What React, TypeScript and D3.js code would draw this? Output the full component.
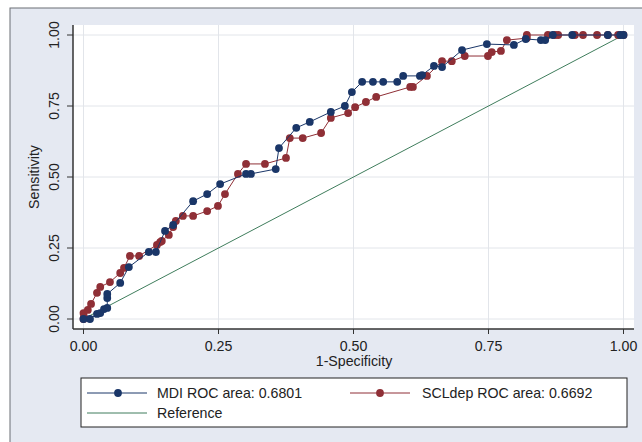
import React from "react";
import * as d3 from "d3";

const tickValues = [0, 0.25, 0.5, 0.75, 1];
const tickLabels = ["0.00", "0.25", "0.50", "0.75", "1.00"];

const mdiX = [0, 0.012, 0.025, 0.031, 0.038, 0.044, 0.044, 0.044, 0.068, 0.084, 0.121, 0.134, 0.151, 0.166, 0.203, 0.229, 0.253, 0.301, 0.31, 0.356, 0.362, 0.394, 0.419, 0.458, 0.484, 0.497, 0.516, 0.536, 0.555, 0.581, 0.592, 0.623, 0.627, 0.649, 0.664, 0.701, 0.747, 0.797, 0.819, 0.847, 0.855, 0.869, 0.905, 0.971, 0.994, 1];
const mdiY = [0, 0, 0.018, 0.021, 0.035, 0.039, 0.074, 0.088, 0.127, 0.183, 0.236, 0.236, 0.31, 0.331, 0.415, 0.44, 0.475, 0.511, 0.511, 0.528, 0.602, 0.673, 0.694, 0.729, 0.75, 0.799, 0.835, 0.835, 0.835, 0.835, 0.856, 0.856, 0.859, 0.891, 0.887, 0.947, 0.968, 0.965, 0.986, 0.982, 0.982, 1, 1, 1, 1, 1];

const sclX = [0, 0.001, 0, 0.008, 0.014, 0.025, 0.031, 0.049, 0.068, 0.075, 0.086, 0.103, 0.136, 0.142, 0.145, 0.158, 0.166, 0.171, 0.184, 0.203, 0.229, 0.249, 0.262, 0.286, 0.301, 0.336, 0.375, 0.382, 0.406, 0.44, 0.458, 0.49, 0.503, 0.523, 0.542, 0.605, 0.61, 0.636, 0.664, 0.682, 0.706, 0.749, 0.756, 0.773, 0.784, 0.821, 0.821, 0.86, 0.873, 0.879, 0.91, 0.925, 0.951, 0.971, 0.99, 1];
const sclY = [0, 0.007, 0.021, 0.032, 0.053, 0.092, 0.113, 0.13, 0.162, 0.18, 0.222, 0.222, 0.261, 0.271, 0.275, 0.296, 0.324, 0.345, 0.363, 0.363, 0.38, 0.398, 0.44, 0.511, 0.546, 0.546, 0.567, 0.637, 0.637, 0.655, 0.708, 0.725, 0.746, 0.764, 0.782, 0.817, 0.817, 0.856, 0.908, 0.908, 0.926, 0.926, 0.94, 0.944, 0.982, 0.989, 1, 1, 1, 1, 1, 1, 1, 1, 1, 1];

const refX = [0, 1];
const refY = [0, 1];

const seriesNames = ["MDI ROC area: 0.6801", "SCLdep ROC area: 0.6692", "Reference"];
const xTitle = "1-Specificity";
const yTitle = "Sensitivity";

const NAVY = "#1a3668";
const MAROON = "#8f2f36";
const GREEN = "#3f7d5c";
const BG = "#e5e9f2";
const GRID = "#e2e5ea";
const FONT = "'Liberation Sans', Arial, sans-serif";
const FS = 14.2;

export default function App() {
  const x = d3.scaleLinear().domain([0, 1]).range([83.5, 623.5]);
  const y = d3.scaleLinear().domain([0, 1]).range([319, 35]);
  const line = d3.line<[number, number]>().x((d) => x(d[0])).y((d) => y(d[1]));
  const mdi = mdiX.map((v, i) => [v, mdiY[i]] as [number, number]);
  const scl = sclX.map((v, i) => [v, sclY[i]] as [number, number]);
  const ref = refX.map((v, i) => [v, refY[i]] as [number, number]);

  const plotL = 73, plotR = 634, plotT = 25, plotB = 329;
  const R = 3.9;

  return (
    <svg width={642} height={442} style={{ position: "absolute", left: 0, top: 0 }} fontFamily={FONT}>
      <rect x={0} y={0} width={642} height={442} fill="#ffffff" />
      <rect x={10} y={8} width={700} height={500} fill={BG} stroke="#6b6e75" strokeWidth={1} />
      <rect x={plotL} y={plotT} width={plotR - plotL} height={plotB - plotT} fill="#ffffff" />
      {tickValues.map((t, i) => (
        <g key={"g" + i}>
          <line x1={x(t)} x2={x(t)} y1={plotT} y2={plotB} stroke={GRID} strokeWidth={1} />
          <line x1={plotL} x2={plotR} y1={y(t)} y2={y(t)} stroke={GRID} strokeWidth={1} />
        </g>
      ))}
      <path d={line(ref) || ""} fill="none" stroke={GREEN} strokeWidth={1} />
      <path d={line(scl) || ""} fill="none" stroke={MAROON} strokeWidth={1} />
      {scl.map((d, i) => (
        <circle key={"s" + i} cx={x(d[0])} cy={y(d[1])} r={R} fill={MAROON} />
      ))}
      <path d={line(mdi) || ""} fill="none" stroke={NAVY} strokeWidth={1} />
      {mdi.map((d, i) => (
        <circle key={"m" + i} cx={x(d[0])} cy={y(d[1])} r={R} fill={NAVY} />
      ))}
      <line x1={plotL} x2={plotL} y1={plotT} y2={plotB} stroke="#333" strokeWidth={1.5} />
      <line x1={plotL} x2={plotR} y1={plotB} y2={plotB} stroke="#333" strokeWidth={1.5} />
      {tickValues.map((t, i) => (
        <g key={"t" + i}>
          <line x1={x(t)} x2={x(t)} y1={plotB} y2={plotB + 5} stroke="#333" strokeWidth={1} />
          <text x={x(t)} y={351} textAnchor="middle" fontSize={FS} fill="#222">{tickLabels[i]}</text>
          <line x1={plotL - 6} x2={plotL} y1={y(t)} y2={y(t)} stroke="#333" strokeWidth={1} />
          <text transform={`translate(${59},${y(t)}) rotate(-90)`} textAnchor="middle" fontSize={FS} fill="#222">{tickLabels[i]}</text>
        </g>
      ))}
      <text x={354} y={366} textAnchor="middle" fontSize={FS} fill="#222">{xTitle}</text>
      <text transform={`translate(${39},${177}) rotate(-90)`} textAnchor="middle" fontSize={FS} fill="#222">{yTitle}</text>
      <rect x={81} y={378} width={546} height={49} fill="#ffffff" stroke="#222" strokeWidth={1} />
      <line x1={87} x2={147} y1={393} y2={393} stroke={NAVY} strokeWidth={1} />
      <circle cx={118} cy={393} r={R} fill={NAVY} />
      <text x={157} y={398} fontSize={FS} fill="#222">{seriesNames[0]}</text>
      <line x1={350} x2={410} y1={393} y2={393} stroke={MAROON} strokeWidth={1} />
      <circle cx={380} cy={393} r={R} fill={MAROON} />
      <text x={422} y={398} fontSize={FS} fill="#222">{seriesNames[1]}</text>
      <line x1={87} x2={147} y1={413} y2={413} stroke={GREEN} strokeWidth={1} />
      <text x={157} y={418} fontSize={FS} fill="#222">{seriesNames[2]}</text>
    </svg>
  );
}
